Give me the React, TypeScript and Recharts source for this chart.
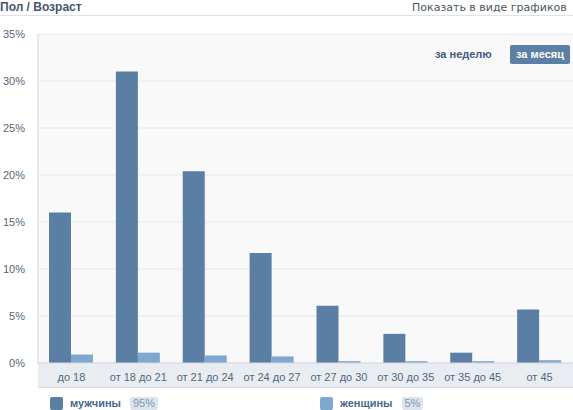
import React from 'react';
import { BarChart, Bar, XAxis, YAxis, CartesianGrid } from 'recharts';

const categories = ['до 18', 'от 18 до 21', 'от 21 до 24', 'от 24 до 27', 'от 27 до 30', 'от 30 до 35', 'от 35 до 45', 'от 45'];
const menValues = [16, 31, 20.4, 11.7, 6.1, 3.1, 1.1, 5.7];
const womenValues = [0.9, 1.1, 0.8, 0.7, 0.2, 0.2, 0.2, 0.3];
const yTicks = [0, 5, 10, 15, 20, 25, 30, 35];
const seriesNames = ['мужчины', 'женщины'];
const seriesShares = ['95%', '5%'];
const periodLabels = ['за неделю', 'за месяц'];
const title = 'Пол / Возраст';
const switchLabel = 'Показать в виде графиков';

const MEN = '#5b7ea5';
const WOMEN = '#7fa8d0';
const FONT = '"Liberation Sans", Arial, sans-serif';

const data = categories.map((c, i) => ({ name: c, men: menValues[i], women: womenValues[i] }));

export default function App() {
  return (
    <div style={{ position: 'absolute', left: 0, top: 0, width: 573, height: 410, overflow: 'hidden', background: '#fff', fontFamily: FONT }}>
      <div style={{ position: 'absolute', left: 0, top: 0, fontSize: 12, fontWeight: 'bold', color: '#45576b', lineHeight: '15px' }}>{title}</div>
      <div style={{ position: 'absolute', left: 412, top: 0, fontSize: 11, fontFamily: '"DejaVu Sans", sans-serif', color: '#4a5560', lineHeight: '15px', whiteSpace: 'nowrap' }}>{switchLabel}</div>
      <div style={{ position: 'absolute', left: 0, top: 15, width: 573, height: 1, background: '#dfe3e8' }} />
      <div style={{ position: 'absolute', left: 38, top: 363, width: 535, height: 24, background: '#e9edf1', borderBottom: '1px solid #d6dde4' }} />
      <div style={{ position: 'absolute', left: 0, top: 0 }}>
        <BarChart width={573} height={410} data={data} margin={{ top: 34, right: 0, bottom: 23, left: 0 }} barGap={0} barSize={22}>
          <CartesianGrid vertical={false} stroke="#e7e9ec" fill="#f9f9fa" />
          <XAxis dataKey="name" height={24} tickLine={false} axisLine={{ stroke: '#d3dae2' }} tick={{ fill: '#4f6882', fontSize: 11, fontFamily: FONT }} tickMargin={4} interval={0} />
          <YAxis width={38} domain={[0, 35]} ticks={yTicks} tickFormatter={(v) => `${v}%`} tickLine={false} axisLine={{ stroke: '#cfd6de' }} tick={{ fill: '#55677a', fontSize: 11, fontFamily: FONT }} tickMargin={7} />
          <Bar dataKey="men" fill={MEN} isAnimationActive={false} />
          <Bar dataKey="women" fill={WOMEN} isAnimationActive={false} />
        </BarChart>
      </div>
      <div style={{ position: 'absolute', left: 435, top: 46, fontSize: 11, fontWeight: 'bold', color: '#3d5a7d', lineHeight: '17px' }}>{periodLabels[0]}</div>
      <div style={{ position: 'absolute', left: 510, top: 45, width: 60, height: 19, borderRadius: 2, background: '#5c7fa5', color: '#fff', fontSize: 11, fontWeight: 'bold', lineHeight: '19px', textAlign: 'center' }}>{periodLabels[1]}</div>
      {seriesNames.map((n, i) => (
        <div key={n} style={{ position: 'absolute', left: i === 0 ? 50 : 320, top: 396, height: 14, display: 'flex', alignItems: 'center', whiteSpace: 'nowrap' }}>
          <div style={{ width: 13, height: 13, borderRadius: 2, background: i === 0 ? MEN : WOMEN, marginRight: 7 }} />
          <span style={{ fontSize: 11, fontWeight: 'bold', color: '#45688e', marginRight: 9, lineHeight: '13px' }}>{n}</span>
          <span style={{ fontSize: 11, color: '#7d98b5', background: '#dde4ec', padding: '0px 3px', borderRadius: 2, lineHeight: '13px' }}>{seriesShares[i]}</span>
        </div>
      ))}
    </div>
  );
}
